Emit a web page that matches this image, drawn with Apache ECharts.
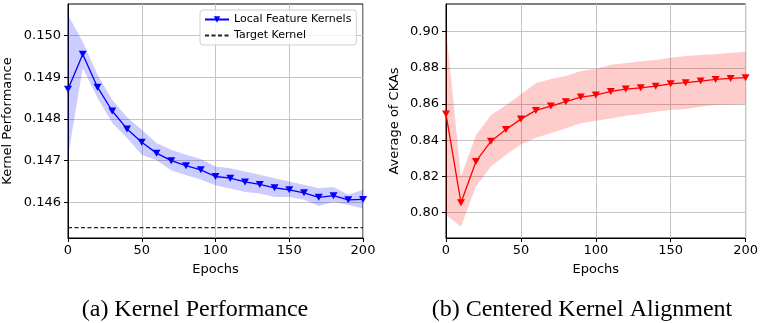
<!DOCTYPE html>
<html>
<head>
<meta charset="utf-8">
<script src="https://cdn.jsdelivr.net/npm/echarts@6/dist/echarts.min.js"></script>
<style>
  html, body { margin: 0; padding: 0; background: #fff; }
  #chart { width: 761px; height: 323px; }
</style>
</head>
<body>
<div id="chart"></div>
<script>
// epochs on the x axis
const epochs = [0, 10, 20, 30, 40, 50, 60, 70, 80, 90, 100, 110, 120, 130, 140, 150, 160, 170, 180, 190, 200]

// (a) kernel performance
const kernelMean = [0.14871, 0.14955, 0.14876, 0.14819, 0.14776, 0.14744, 0.14718, 0.14700, 0.14688, 0.14678, 0.14662,
  0.14658, 0.14649, 0.14643, 0.14635, 0.14630, 0.14623, 0.14612, 0.14616, 0.14606, 0.14607]
const kernelUpper = [0.15049, 0.14985, 0.14906, 0.14846, 0.14804, 0.14774, 0.14742, 0.14726, 0.14714, 0.14704, 0.14686,
  0.14682, 0.14674, 0.14666, 0.14658, 0.14650, 0.14642, 0.14634, 0.14637, 0.14618, 0.14630]
const kernelLower = [0.14710, 0.14922, 0.14850, 0.14790, 0.14754, 0.14714, 0.14701, 0.14677, 0.14665, 0.14655, 0.14641,
  0.14633, 0.14625, 0.14621, 0.14613, 0.14613, 0.14606, 0.14591, 0.14601, 0.14594, 0.14585]
const targetKernel = 0.145393
const kernelTicks = [0.146, 0.147, 0.148, 0.149, 0.150]

// (b) centered kernel alignment
const ckaMean = [0.8545, 0.8055, 0.8283, 0.8395, 0.8460, 0.8517, 0.8565, 0.8589, 0.8613, 0.8639, 0.8650,
  0.8670, 0.8683, 0.8690, 0.8699, 0.8712, 0.8718, 0.8727, 0.8736, 0.8742, 0.8746]
const ckaUpper = [0.9019, 0.8200, 0.8428, 0.8539, 0.8594, 0.8654, 0.8715, 0.8739, 0.8755, 0.8783, 0.8794,
  0.8818, 0.8827, 0.8836, 0.8843, 0.8856, 0.8865, 0.8871, 0.8876, 0.8884, 0.8889]
const ckaLower = [0.7987, 0.7923, 0.8145, 0.8255, 0.8320, 0.8376, 0.8414, 0.8439, 0.8466, 0.8494, 0.8508,
  0.8521, 0.8535, 0.8545, 0.8558, 0.8567, 0.8571, 0.8585, 0.8596, 0.8598, 0.8600]
const ckaTicks = [0.80, 0.82, 0.84, 0.86, 0.88, 0.90]

const font = "DejaVu Sans"
const pair = (ys) => epochs.map((x, i) => [x, ys[i]])

const xAxisBase = (gridIndex) => ({
  gridIndex,
  type: "value",
  min: 0,
  max: 200,
  interval: 50,
  name: "Epochs",
  nameLocation: "middle",
  nameGap: 25,
  nameTextStyle: { fontFamily: font, fontSize: 13, color: "#000" },
  axisLine: { lineStyle: { color: "#000", width: 1 } },
  axisTick: { inside: false, length: 4, lineStyle: { color: "#000" } },
  axisLabel: { fontFamily: font, fontSize: 13, color: "#000", margin: 6 },
  splitLine: { show: true, lineStyle: { color: "#c4c4c4", width: 1 } },
})

const yAxisBase = (gridIndex, name, min, max, ticks, digits, gap) => ({
  gridIndex,
  type: "value",
  min,
  max,
  name,
  nameLocation: "middle",
  nameGap: gap,
  nameTextStyle: { fontFamily: font, fontSize: 13, color: "#000" },
  axisLine: { show: true, lineStyle: { color: "#000", width: 1 } },
  axisTick: { show: true, inside: false, length: 4, customValues: ticks, lineStyle: { color: "#000" } },
  axisLabel: { fontFamily: font, fontSize: 13, color: "#000", margin: 7, customValues: ticks,
    formatter: (v) => v.toFixed(digits) },
  splitLine: { show: true, customValues: ticks, lineStyle: { color: "#c4c4c4", width: 1 } },
})

// shaded band between lower and upper, drawn through the axis scales
const bandSeries = (axisIndex, upper, lower, color) => ({
  type: "custom",
  xAxisIndex: axisIndex,
  yAxisIndex: axisIndex,
  silent: true,
  clip: true,
  z: 1,
  data: epochs.map((x, i) => [x, lower[i], upper[i]]),
  encode: { x: 0, y: [1, 2] },
  renderItem: (params, api) => {
    if (params.dataIndex !== 0) return
    const top = epochs.map((x, i) => api.coord([x, upper[i]]))
    const bottom = epochs.map((x, i) => api.coord([x, lower[i]])).reverse()
    return {
      type: "polygon",
      shape: { points: top.concat(bottom) },
      style: { fill: color, opacity: 0.2 },
    }
  },
})

const chart = echarts.init(document.getElementById("chart"), null, { renderer: "canvas" })

chart.setOption({
  animation: false,
  backgroundColor: "#fff",
  textStyle: { fontFamily: font },
  title: [
    { text: "(a) Kernel Performance", left: 190, top: 293, textAlign: "center",
      textStyle: { fontFamily: "Liberation Serif", fontSize: 24, fontWeight: "normal", color: "#000" } },
    { text: "(b) Centered Kernel Alignment", left: 577, top: 293, textAlign: "center",
      textStyle: { fontFamily: "Liberation Serif", fontSize: 24, fontWeight: "normal", color: "#000" } },
  ],
  legend: {
    data: [
      "Local Feature Kernels",
      { name: "Target Kernel", itemStyle: { opacity: 0 } },
    ],
    orient: "vertical",
    left: 200,
    top: 10,
    padding: [4, 5, 4, 4],
    itemGap: 5,
    itemWidth: 24,
    itemHeight: 8,
    borderColor: "#d0d0d0",
    borderWidth: 1,
    borderRadius: 3,
    backgroundColor: "rgba(255,255,255,0.8)",
    textStyle: { fontFamily: font, fontSize: 11, color: "#000" },
  },
  grid: [
    { left: 67, top: 4, width: 296, height: 234, show: true, borderColor: "#000", borderWidth: 1 },
    { left: 446, top: 4, width: 305, height: 234, show: true, borderColor: "#000", borderWidth: 1 },
  ],
  xAxis: [xAxisBase(0), xAxisBase(1)],
  yAxis: [
    yAxisBase(0, "Kernel Performance", 0.145146, 0.150754, kernelTicks, 3, 54),
    yAxisBase(1, "Average of CKAs", 0.786, 0.9153, ckaTicks, 2, 45),
  ],
  series: [
    bandSeries(0, kernelUpper, kernelLower, "#0000ff"),
    { name: "Target Kernel", type: "line", xAxisIndex: 0, yAxisIndex: 0,
      data: [[epochs[0], targetKernel], [epochs[epochs.length - 1], targetKernel]],
      symbol: "none", symbolSize: 0, showSymbol: false, itemStyle: { color: "#000" },
      lineStyle: { color: "#222", width: 1.3, type: [4, 2.5] }, z: 3 },
    { name: "Local Feature Kernels", type: "line", xAxisIndex: 0, yAxisIndex: 0, data: pair(kernelMean),
      symbol: "triangle", symbolRotate: 180, symbolSize: [8, 7], showSymbol: true,
      itemStyle: { color: "#0000ff" }, lineStyle: { color: "#0000ff", width: 1.3 }, z: 4 },
    bandSeries(1, ckaUpper, ckaLower, "#ff0000"),
    { name: "CKA", type: "line", xAxisIndex: 1, yAxisIndex: 1, data: pair(ckaMean),
      symbol: "triangle", symbolRotate: 180, symbolSize: [8, 7], showSymbol: true,
      itemStyle: { color: "#ff0000" }, lineStyle: { color: "#ff0000", width: 1.3 }, z: 4 },
  ],
})
</script>
</body>
</html>
